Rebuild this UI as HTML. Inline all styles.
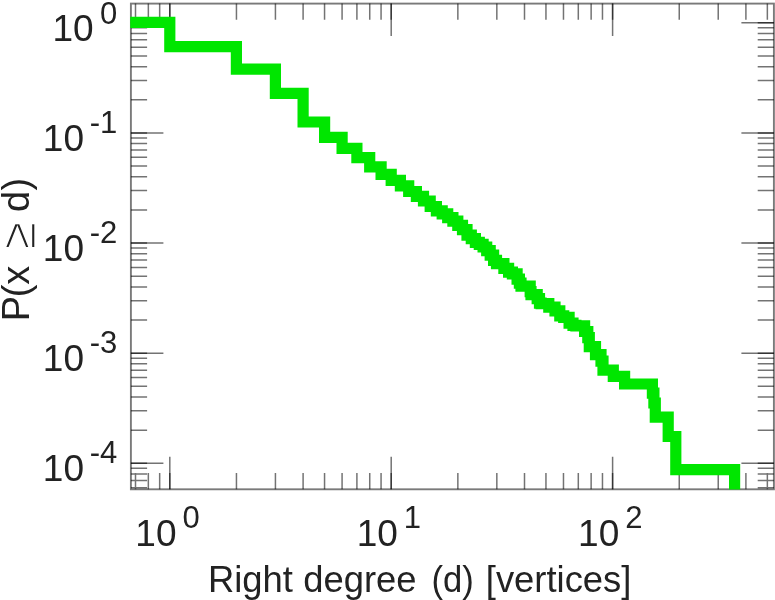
<!DOCTYPE html>
<html><head><meta charset="utf-8"><title>Right degree distribution</title>
<style>
html,body{margin:0;padding:0;background:#fff;}
body{width:775px;height:600px;overflow:hidden;}
svg{display:block;}
text{font-family:"Liberation Sans",sans-serif;fill:#222;}
</style></head><body>
<svg width="775" height="600" viewBox="0 0 775 600">
<rect width="775" height="600" fill="#fff"/>
<defs><clipPath id="c"><rect x="130.2" y="0" width="660" height="489.6"/></clipPath></defs>
<rect x="130.9" y="3.6" width="643.0" height="485.7" fill="none" stroke="#000" stroke-opacity="0.52" stroke-width="1.9"/>
<g fill="none" stroke="#000" stroke-opacity="0.55" stroke-width="1.5">
<path d="M135.50 489.30v-16.20M135.50 3.60v16.20M148.34 489.30v-16.20M148.34 3.60v16.20M159.67 489.30v-16.20M159.67 3.60v16.20M169.80 489.30v-16.20M169.80 3.60v16.20M236.45 489.30v-16.20M236.45 3.60v16.20M275.43 489.30v-16.20M275.43 3.60v16.20M303.10 489.30v-16.20M303.10 3.60v16.20M324.55 489.30v-16.20M324.55 3.60v16.20M342.08 489.30v-16.20M342.08 3.60v16.20M356.90 489.30v-16.20M356.90 3.60v16.20M369.74 489.30v-16.20M369.74 3.60v16.20M381.07 489.30v-16.20M381.07 3.60v16.20M391.20 489.30v-16.20M391.20 3.60v16.20M457.85 489.30v-16.20M457.85 3.60v16.20M496.83 489.30v-16.20M496.83 3.60v16.20M524.50 489.30v-16.20M524.50 3.60v16.20M545.95 489.30v-16.20M545.95 3.60v16.20M563.48 489.30v-16.20M563.48 3.60v16.20M578.30 489.30v-16.20M578.30 3.60v16.20M591.14 489.30v-16.20M591.14 3.60v16.20M602.47 489.30v-16.20M602.47 3.60v16.20M612.60 489.30v-16.20M612.60 3.60v16.20M679.25 489.30v-16.20M679.25 3.60v16.20M718.23 489.30v-16.20M718.23 3.60v16.20M745.90 489.30v-16.20M745.90 3.60v16.20M767.35 489.30v-16.20M767.35 3.60v16.20M130.90 487.75h16.20M773.90 487.75h-16.20M130.90 480.38h16.20M773.90 480.38h-16.20M130.90 473.99h16.20M773.90 473.99h-16.20M130.90 468.36h16.20M773.90 468.36h-16.20M130.90 463.32h16.20M773.90 463.32h-16.20M130.90 430.17h16.20M773.90 430.17h-16.20M130.90 410.77h16.20M773.90 410.77h-16.20M130.90 397.02h16.20M773.90 397.02h-16.20M130.90 386.34h16.20M773.90 386.34h-16.20M130.90 377.62h16.20M773.90 377.62h-16.20M130.90 370.25h16.20M773.90 370.25h-16.20M130.90 363.86h16.20M773.90 363.86h-16.20M130.90 358.23h16.20M773.90 358.23h-16.20M130.90 353.19h16.20M773.90 353.19h-16.20M130.90 320.04h16.20M773.90 320.04h-16.20M130.90 300.64h16.20M773.90 300.64h-16.20M130.90 286.89h16.20M773.90 286.89h-16.20M130.90 276.21h16.20M773.90 276.21h-16.20M130.90 267.49h16.20M773.90 267.49h-16.20M130.90 260.12h16.20M773.90 260.12h-16.20M130.90 253.73h16.20M773.90 253.73h-16.20M130.90 248.10h16.20M773.90 248.10h-16.20M130.90 243.06h16.20M773.90 243.06h-16.20M130.90 209.91h16.20M773.90 209.91h-16.20M130.90 190.51h16.20M773.90 190.51h-16.20M130.90 176.76h16.20M773.90 176.76h-16.20M130.90 166.08h16.20M773.90 166.08h-16.20M130.90 157.36h16.20M773.90 157.36h-16.20M130.90 149.99h16.20M773.90 149.99h-16.20M130.90 143.60h16.20M773.90 143.60h-16.20M130.90 137.97h16.20M773.90 137.97h-16.20M130.90 132.93h16.20M773.90 132.93h-16.20M130.90 99.78h16.20M773.90 99.78h-16.20M130.90 80.38h16.20M773.90 80.38h-16.20M130.90 66.63h16.20M773.90 66.63h-16.20M130.90 55.95h16.20M773.90 55.95h-16.20M130.90 47.23h16.20M773.90 47.23h-16.20M130.90 39.86h16.20M773.90 39.86h-16.20M130.90 33.47h16.20M773.90 33.47h-16.20M130.90 27.84h16.20M773.90 27.84h-16.20M130.90 22.80h16.20M773.90 22.80h-16.20"/>
<path d="M169.80 489.30v-32.50M169.80 3.60v32.50M391.20 489.30v-32.50M391.20 3.60v32.50M612.60 489.30v-32.50M612.60 3.60v32.50M130.90 463.32h32.50M773.90 463.32h-32.50M130.90 353.19h32.50M773.90 353.19h-32.50M130.90 243.06h32.50M773.90 243.06h-32.50M130.90 132.93h32.50M773.90 132.93h-32.50M130.90 22.80h32.50M773.90 22.80h-32.50"/>
</g>
<path d="M124.9 22.3H169.8V46.7H236.4V69.2H275.4V93.4H303.1V122.0H324.6V137.3H342.1V148.4H356.9V157.6H369.7V166.8H381.1V174.4H391.2V180.4H400.4V185.8H408.7V191.5H416.4V196.3H423.5V201.0H430.2V206.5H436.4V210.8H442.2V213.9H447.7V217.6H452.9V221.2H457.8V225.4H462.5V229.7H467.0V235.1H471.3V238.7H475.4V242.4H479.3V244.4H483.1V247.0H486.7V250.6H490.2V255.2H493.6V260.4H496.5V263.7H503.9V268.4H508.6V272.2H512.4V273.8H517.1V279.2H519.4V283.1H521.0V286.2H530.2V291.6H531.0V294.7H537.2V298.6H539.5V303.2H541.1V303.7H548.8V307.1H555.0V310.8H559.8V315.8H563.7V317.3H569.1V323.1H573.0V325.4H575.9V325.9H584.6V331.5H587.8V337.7H589.3V346.6H595.5V354.7H601.0V361.2H603.0V370.2H613.3V376.4H624.6V384.0H652.4V393.1H653.9V403.0H655.3V417.1H668.2V436.5H675.8V469.6H734.6V497.3" fill="none" stroke="#00e600" stroke-width="11.2" stroke-linejoin="miter" clip-path="url(#c)"/>
<text x="52.4" y="40.8" font-size="37.6" textLength="41.2" lengthAdjust="spacingAndGlyphs">10</text>
<text x="117.3" y="23.5" font-size="31" text-anchor="end">0</text>
<text x="42.8" y="150.9" font-size="37.6" textLength="41.2" lengthAdjust="spacingAndGlyphs">10</text>
<text x="117.3" y="132.6" font-size="31" text-anchor="end">-1</text>
<text x="42.8" y="261.1" font-size="37.6" textLength="41.2" lengthAdjust="spacingAndGlyphs">10</text>
<text x="117.3" y="242.8" font-size="31" text-anchor="end">-2</text>
<text x="42.8" y="371.2" font-size="37.6" textLength="41.2" lengthAdjust="spacingAndGlyphs">10</text>
<text x="117.3" y="352.9" font-size="31" text-anchor="end">-3</text>
<text x="42.8" y="481.3" font-size="37.6" textLength="41.2" lengthAdjust="spacingAndGlyphs">10</text>
<text x="117.3" y="463.0" font-size="31" text-anchor="end">-4</text>
<text x="135.3" y="545.8" font-size="37.6" textLength="41.2" lengthAdjust="spacingAndGlyphs">10</text>
<text x="182.4" y="527.7" font-size="31">0</text>
<text x="356.7" y="545.8" font-size="37.6" textLength="41.2" lengthAdjust="spacingAndGlyphs">10</text>
<text x="403.8" y="527.7" font-size="31">1</text>
<text x="578.1" y="545.8" font-size="37.6" textLength="41.2" lengthAdjust="spacingAndGlyphs">10</text>
<text x="625.2" y="527.7" font-size="31">2</text>
<text y="591.7" font-size="37.6"><tspan x="207.9" textLength="85.0" lengthAdjust="spacingAndGlyphs">Right</tspan> <tspan x="303.3" textLength="113.3" lengthAdjust="spacingAndGlyphs">degree</tspan> <tspan x="431.4" textLength="42.3" lengthAdjust="spacingAndGlyphs">(d)</tspan> <tspan x="485.8" textLength="145.6" lengthAdjust="spacingAndGlyphs">[vertices]</tspan></text>
<text transform="translate(29.1 321) rotate(-90)" font-size="38" x="-0.2 23.85 36.15 55 71.4 100 109.1 130.6">P(x <tspan font-size="49.4" dy="6" stroke="#fff" stroke-width="1.3">≥</tspan><tspan dy="-6"> d)</tspan></text>
</svg>
</body></html>
